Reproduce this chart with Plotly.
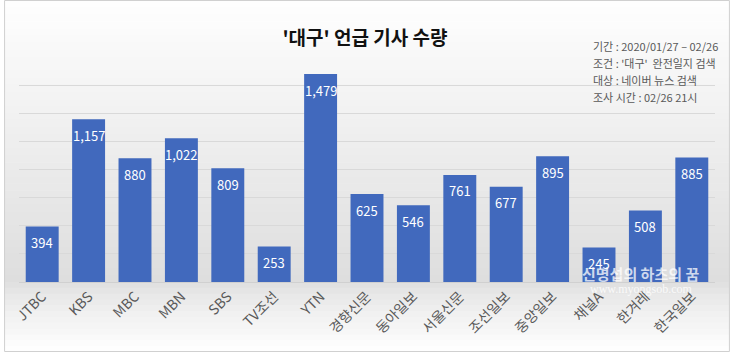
import plotly.graph_objects as go

categories = ["JTBC", "KBS", "MBC", "MBN", "SBS", "TV조선", "YTN", "경향신문", "동아일보",
              "서울신문", "조선일보", "중앙일보", "채널A", "한겨레", "한국일보"]
values = [394, 1157, 880, 1022, 809, 253, 1479, 625, 546, 761, 677, 895, 245, 508, 885]
info_lines = ["기간 : 2020/01/27 – 02/26", "조건 : '대구'  완전일지 검색", "대상 : 네이버 뉴스 검색", "조사 시간 : 02/26 21시"]

W, H = 730, 352
ml, mr, mt, mb = 15, 15, 57, 70
pw, ph = W - ml - mr, H - mt - mb

def px_x(x):
    return (x - ml) / pw

def px_y(y):
    return (H - mb - y) / ph

FONT = "Noto Sans CJK KR"

fig = go.Figure()
fig.add_trace(go.Bar(
    x=categories, y=values,
    marker=dict(color="#4169bd", line=dict(width=0)),
    hoverinfo="x+y",
))

shapes = []
n = 40
top_c, mid_c = (255, 255, 255), (222, 222, 222)
base_y = H - mb
for i in range(n):
    y0 = base_y * i / n
    y1 = base_y * (i + 1) / n + 0.5
    t = (i + 0.5) / n
    c = tuple(int(top_c[k] + (mid_c[k] - top_c[k]) * t) for k in range(3))
    shapes.append(dict(type="rect", xref="paper", yref="paper", layer="below",
                       x0=px_x(0), x1=px_x(W), y0=px_y(y1), y1=px_y(y0),
                       fillcolor="rgb(%d,%d,%d)" % c, line=dict(width=0)))
m = 12
for i in range(m):
    y0 = base_y + (H - base_y) * i / m
    y1 = base_y + (H - base_y) * (i + 1) / m + 0.5
    t = (i + 0.5) / m
    c = tuple(int(mid_c[k] + (top_c[k] - mid_c[k]) * t ** 0.7) for k in range(3))
    shapes.append(dict(type="rect", xref="paper", yref="paper", layer="below",
                       x0=px_x(0), x1=px_x(W), y0=px_y(y1), y1=px_y(y0),
                       fillcolor="rgb(%d,%d,%d)" % c, line=dict(width=0)))
shapes.append(dict(type="rect", xref="paper", yref="paper", layer="above",
                   x0=px_x(0.5), x1=px_x(W - 0.5), y0=px_y(H - 0.5), y1=px_y(0.5),
                   line=dict(color="#d0d0d0", width=1), fillcolor="rgba(0,0,0,0)"))

annotations = []
# value labels inside the top of each bar
for c, v in zip(categories, values):
    annotations.append(dict(text=f"{v:,}", xref="x", yref="y", x=c, y=v,
                            xanchor="center", yanchor="middle", yshift=-16,
                            showarrow=False, font=dict(size=13, color="white", family=FONT)))
for i, line in enumerate(info_lines):
    annotations.append(dict(text=line, xref="paper", yref="paper",
                            x=px_x(590), y=px_y(46 + 17 * i), xanchor="left", yanchor="middle",
                            showarrow=False, font=dict(size=11, color="#595959", family=FONT)))
annotations.append(dict(text="<b>신명섭의 하츠의 꿈</b>", xref="paper", yref="paper",
                        x=px_x(640), y=px_y(273), xanchor="center", yanchor="middle",
                        showarrow=False, font=dict(size=15, color="rgba(255,255,255,0.75)", family=FONT)))
annotations.append(dict(text="www.myongsob.com", xref="paper", yref="paper",
                        x=px_x(641), y=px_y(289), xanchor="center", yanchor="middle",
                        showarrow=False, font=dict(size=12, color="rgba(255,255,255,0.8)", family="Liberation Serif")))

fig.update_layout(
    width=W, height=H,
    margin=dict(l=ml, r=mr, t=mt, b=mb),
    paper_bgcolor="white", plot_bgcolor="rgba(0,0,0,0)",
    title=dict(text="<b>'대구' 언급 기사 수량</b>", x=0.5, xanchor="center", y=1 - 38 / H, yanchor="middle",
               font=dict(size=19, color="#111111", family=FONT)),
    bargap=0.29,
    showlegend=False,
    shapes=shapes,
    annotations=annotations,
    xaxis=dict(tickangle=-45, tickfont=dict(size=14, color="#595959", family=FONT),
               showline=True, linecolor="#d0d0d0", linewidth=1, ticks="", showgrid=False),
    yaxis=dict(range=[0, 1600], dtick=200, showgrid=True, gridcolor="#d9d9d9", gridwidth=1,
               showticklabels=False, zeroline=False, ticks=""),
)

fig.write_html("out.html")
